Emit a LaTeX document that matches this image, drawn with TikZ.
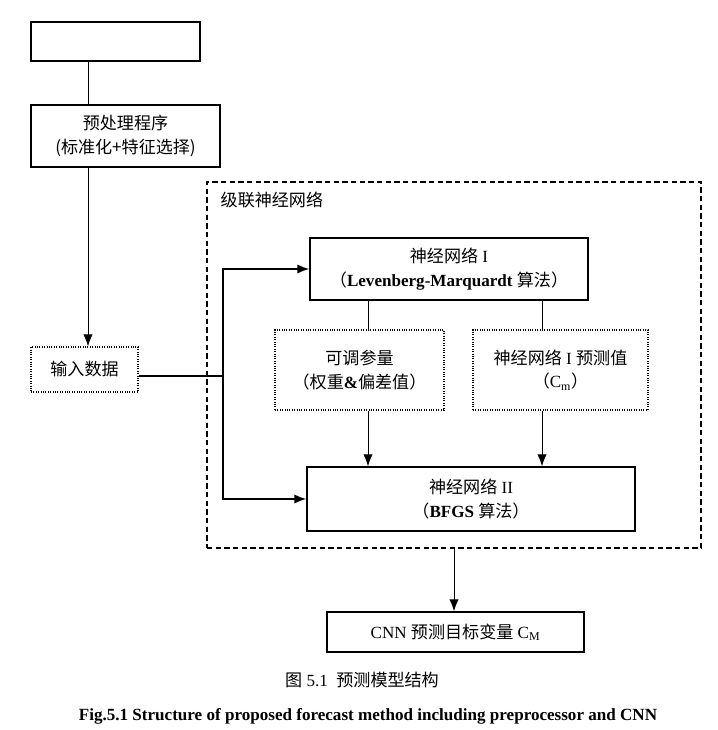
\documentclass[tikz,border=0pt]{standalone}
\usepackage{fontspec}
\usetikzlibrary{arrows.meta}
\setmainfont{Liberation Serif}
\newfontfamily\cjk{Noto Sans CJK SC}
\newcommand{\zh}[1]{{\cjk #1}}
\tikzset{
  >={Latex[length=9pt,width=7pt]},
  box/.style={draw, line width=1pt, align=center, inner sep=2pt},
  dotbox/.style={draw, densely dotted, line width=0.8pt, align=center, inner sep=2pt},
  frame/.style={draw, dash pattern=on 4pt off 2.5pt, line width=0.9pt, inner sep=0pt},
  conn/.style={line width=0.75pt},
  feed/.style={line width=1.3pt},
}
\begin{document}
\begin{tikzpicture}[x=0.75pt, y=-0.75pt, font=\fontsize{12.8}{17.5}\selectfont]
    \useasboundingbox (0,0) rectangle (717,730);
    % 
    \node[box, minimum width=126.75pt, minimum height=29.25pt] (top) at (115.5,41.5) {};
    \node[box, minimum width=141.75pt, minimum height=46.5pt] (prep) at (125.5,136) {\zh{预处理程序}\\\zh{(标准化+特征选择)}};
    \node[dotbox, minimum width=80.25pt, minimum height=33.75pt] (input) at (84.5,369.5) {\zh{输入数据}};
    % cascade
    \node[frame, minimum width=370.5pt, minimum height=274.5pt] (casc) at (454,365) {};
    \node[anchor=west] (casctitle) at (216,200) {\zh{级联神经网络}};
    \node[box, minimum width=208.5pt, minimum height=46.5pt] (nn1) at (449,269) {\zh{神经网络} I\\\zh{（}\textbf{Levenberg-Marquardt} \zh{算法）}};
    \node[dotbox, minimum width=126.75pt, minimum height=60pt] (adj) at (359.5,370) {\zh{可调参量}\\\zh{（权重}\textbf{\&}\zh{偏差值）}};
    \node[dotbox, minimum width=131.25pt, minimum height=60pt] (pred) at (560.5,370) {\zh{神经网络} I \zh{预测值}\\\zh{（}C$_{\mathrm{m}}$\zh{）}};
    \node[box, minimum width=246pt, minimum height=48pt] (nn2) at (471,499) {\zh{神经网络} II\\\zh{（}\textbf{BFGS} \zh{算法）}};
    % output
    \node[box, minimum width=192.75pt, minimum height=30pt] (cnn) at (455.5,632) {CNN \zh{预测目标变量} C$_{\mathrm{M}}$};
    \node (capzh) at (362,680) {\zh{图} 5.1\ \ \zh{预测模型结构}};
    \node (capen) at (368,716) {\fontsize{12.8}{15}\selectfont\bfseries Fig.5.1 Structure of proposed forecast method including preprocessor and CNN};
    % 
    \coordinate (split) at (223,376);
    \coordinate (colL) at (88,0);
    \coordinate (colA) at (368,0);
    \coordinate (colB) at (542,0);
    \coordinate (colC) at (454,0);
    \draw[conn] (top.south -| colL) -- (prep.north -| colL);
    \draw[conn,->] (prep.south -| colL) -- (input.north -| colL);
    \draw[feed] (input.east |- split) -- (split);
    \draw[feed,->] (split) |- (nn1.west);
    \draw[feed,->] (split) |- (nn2.west);
    \draw[conn] (nn1.south -| colA) -- (adj.north -| colA);
    \draw[conn] (nn1.south -| colB) -- (pred.north -| colB);
    \draw[conn,->] (adj.south -| colA) -- (nn2.north -| colA);
    \draw[conn,->] (pred.south -| colB) -- (nn2.north -| colB);
    \draw[conn,->] (casc.south) -- (cnn.north -| colC);
  \end{tikzpicture}
\end{document}
